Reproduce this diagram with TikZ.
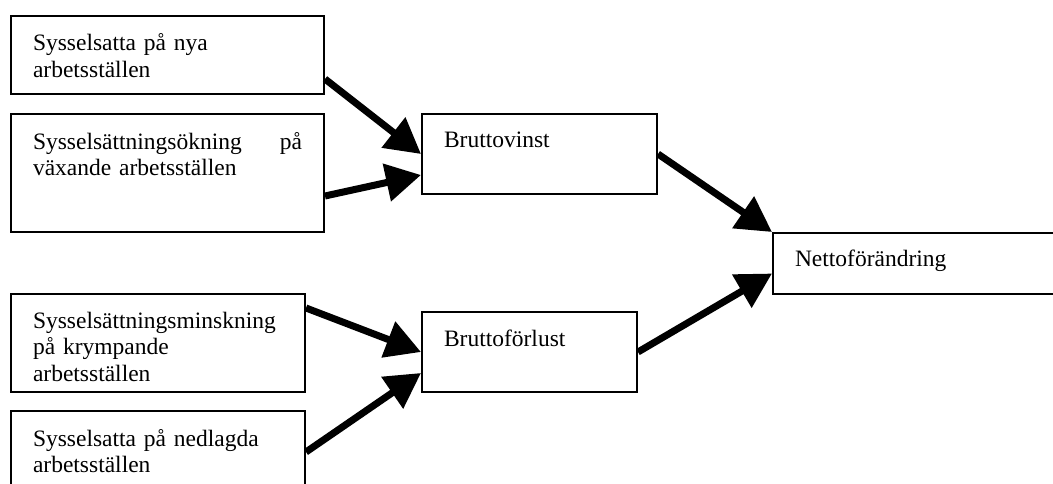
\documentclass[tikz,border=0pt]{standalone}
\usepackage{fontspec}
\setmainfont{Liberation Serif}
\usetikzlibrary{arrows.meta,calc}
\providecommand{\boxfontsize}{\fontsize{23.5pt}{26.5pt}\selectfont}

\begin{document}
\begin{tikzpicture}[x=1pt,y=1pt,
    textbox/.style={draw,line width=2pt,rectangle,inner xsep=22pt,inner ysep=0pt,
      anchor=north west,align=left,font=\boxfontsize,text height=35pt},
    flow/.style={line width=7pt,-{Triangle[length=35pt,width=37pt]}}]
    \pgfmathsetmacro{\picwidth}{1053}
    \pgfmathsetmacro{\picheight}{483}
    \useasboundingbox (0,0) rectangle (\picwidth,\picheight);
    \clip (0,0) rectangle (\picwidth,\picheight);
    % left column: where the jobs come from and go to
    \node[textbox,text width=269pt,text depth=43pt] (nya) at (10,468) {Sysselsatta på nya\\arbetsställen};
    \node[textbox,text width=269pt,text depth=83pt] (okning) at (10,370) {Sysselsättningsökning \hfill på\\växande arbetsställen};
    \node[textbox,text width=250pt,text height=34pt,text depth=64pt] (minskning) at (10,190) {Sysselsättningsminskning\\på krympande\\arbetsställen};
    \node[textbox,text width=250pt,text depth=75pt] (nedlagda) at (10,73) {Sysselsatta på nedlagda\\arbetsställen};
    % middle column: gross flows
    \node[textbox,text width=191pt,text height=34pt,text depth=46pt] (vinst) at (421,370) {Bruttovinst};
    \node[textbox,text width=171pt,text height=34pt,text depth=46pt] (forlust) at (421,172) {Bruttoförlust};
    % right: the net change (runs off the page)
    \node[textbox,text width=256pt,text height=33pt,text depth=28pt] (netto) at (772,251) {Nettoförändring};
    \draw[flow] ($(nya.south east)+(0,16)$) -- (vinst.west);
    \draw[flow] ($(okning.east)+(0,-23)$) -- ($(vinst.west)+(0,-21)$);
    \draw[flow] ($(minskning.north east)+(0,-15)$) -- (forlust.west);
    \draw[flow] ($(nedlagda.north east)+(0,-42)$) -- ($(forlust.west)+(0,-21)$);
    \draw[flow] (vinst.east) -- (netto.north west);
    \draw[flow] (forlust.east) -- ($(netto.west)+(0,-10)$);
\end{tikzpicture}
\end{document}
